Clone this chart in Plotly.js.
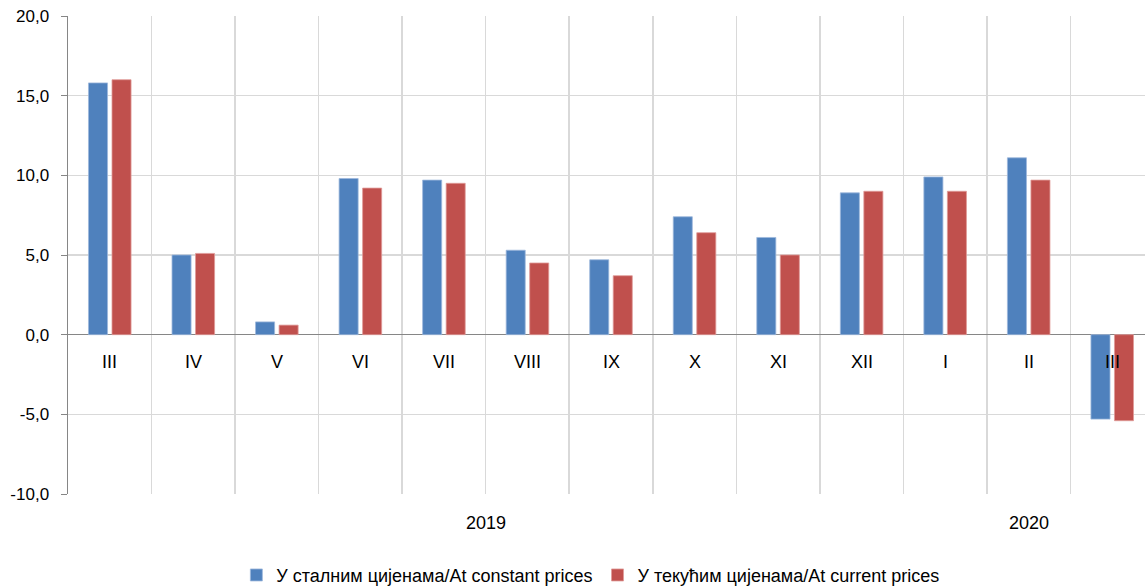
<!DOCTYPE html>
<html>
<head>
<meta charset="utf-8">
<script src="https://cdn.plot.ly/plotly-3.0.1.min.js"></script>
<style>
html,body{margin:0;padding:0;overflow:hidden;background:#fff;}
#chart{width:1154px;height:587px;}
</style>
</head>
<body>
<div id="chart"></div>
<script>
// ---- data ----
const months = ['III','IV','V','VI','VII','VIII','IX','X','XI','XII','I','II','III'];
const yearLabels = ['2019','2020'];
const yearFirstIndex = [0, 10];
const yearLastIndex = [9, 12];
const constantPrices = [15.8, 5.0, 0.8, 9.8, 9.7, 5.3, 4.7, 7.4, 6.1, 8.9, 9.9, 11.1, -5.3];
const currentPrices  = [16.0, 5.1, 0.6, 9.2, 9.5, 4.5, 3.7, 6.4, 5.0, 9.0, 9.0, 9.7, -5.4];
const yTickValues = [-10, -5, 0, 5, 10, 15, 20];
const seriesNames = ['У сталним цијенама/At constant prices', 'У текућим цијенама/At current prices'];

const idx = months.map((m, i) => i);
const boundaries = idx.slice(0, -1).map(i => i + 0.5);
const yTickText = yTickValues.map(v => v.toFixed(1).replace('.', ','));
const FONT = 'Liberation Sans, Arial, sans-serif';

const traces = [
  {type:'bar', x: idx, y: constantPrices, name: seriesNames[0],
   marker:{color:'#4F81BD', line:{color:'#9db8dc', width:0.8}}, hoverinfo:'y'},
  {type:'bar', x: idx, y: currentPrices, name: seriesNames[1],
   marker:{color:'#C0504D', line:{color:'#e09a98', width:0.8}}, hoverinfo:'y'}
];

const annotations = [];
months.forEach((m, i) => {
  annotations.push({x: i, y: 0, xref:'x', yref:'y', text: m, showarrow:false,
    yanchor:'middle', yshift:-27, font:{family:FONT, size:18, color:'#000'}});
});
yearLabels.forEach((yl, k) => {
  annotations.push({x: (yearFirstIndex[k] + yearLastIndex[k]) / 2, y: 0, xref:'x', yref:'paper',
    text: yl, showarrow:false, yanchor:'middle', yshift:-29,
    font:{family:FONT, size:18, color:'#000'}});
});

const layout = {
  width:1154, height:587,
  margin:{l:68, r:0, t:16, b:93},
  paper_bgcolor:'#fff', plot_bgcolor:'#fff',
  barmode:'group', bargap:0.437, bargroupgap:0.19,
  showlegend:true,
  legend:{orientation:'h', xref:'paper', x:0.481, xanchor:'center',
    yref:'container', y:0.02, yanchor:'middle',
    font:{family:FONT, size:18, color:'#000'}, itemwidth:30, traceorder:'normal'},
  xaxis:{range:[-0.5, 12.5], tickmode:'array', tickvals:boundaries, ticktext:boundaries.map(()=>''),
    showticklabels:false, ticks:'', showgrid:true, gridcolor:'#d9d9d9', gridwidth:1.5,
    zeroline:false, showline:false, fixedrange:true},
  yaxis:{range:[-10, 20], tickmode:'array', tickvals:yTickValues, ticktext:yTickText,
    showgrid:true, gridcolor:'#d9d9d9', gridwidth:1.5,
    zeroline:true, zerolinecolor:'#868686', zerolinewidth:1.5,
    showline:true, linecolor:'#868686', linewidth:1.5,
    ticks:'outside', ticklen:6, tickcolor:'#868686', ticklabelstandoff:8,
    tickfont:{family:FONT, size:17, color:'#000'}, fixedrange:true},
  annotations: annotations,
  font:{family:FONT}
};

Plotly.newPlot('chart', traces, layout, {displayModeBar:false, staticPlot:true});
</script>
</body>
</html>
